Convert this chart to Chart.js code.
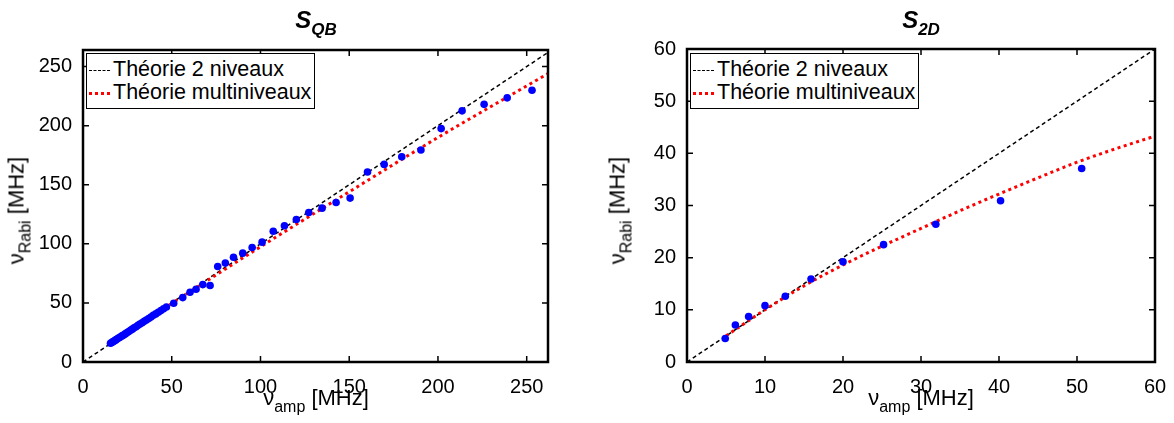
<!DOCTYPE html>
<html>
<head>
<meta charset="utf-8">
<script src="https://cdn.jsdelivr.net/npm/chart.js@4"></script>
<style>
  body { margin: 0; background: #fff; font-family: "Liberation Sans", Arial, sans-serif; }
  #wrap { position: relative; width: 1174px; height: 423px; overflow: hidden; }
  .pane { position: absolute; top: 0; width: 587px; height: 423px; }
  .title { position: absolute; width: 200px; text-align: center; font-weight: bold; font-style: italic; font-size: 24px; top: 6px; line-height: 28px; }
  .title sub { font-size: 17px; vertical-align: -7px; }
  .xlab { position: absolute; width: 240px; text-align: center; font-size: 22px; top: 386px; line-height: 24px; }
  .ylab { position: absolute; width: 240px; text-align: center; font-size: 22px; line-height: 24px; transform: rotate(-90deg); transform-origin: center center; }
  .xlab sub, .ylab sub { font-size: 16px; vertical-align: -7px; }
  .legend { position: absolute; top: 53px; height: 54px; border: 1px solid #000; background: #fff; font-size: 21.5px; padding-right: 3px; }
  .legend div { height: 22px; line-height: 22px; margin-top: 4px; white-space: nowrap; }
  .legend div + div { margin-top: 1px; }
  .legend span.s { display: inline-block; width: 21px; margin: 0 3px 0 2px; vertical-align: middle; }
  .legend span.k { border-top: 1.5px dashed #000; }
  .legend span.r { border-top: 3px dotted #f00; }
</style>
</head>
<body>
<div id="wrap">
  <div class="pane" style="left:0"><canvas id="qbChart"></canvas></div>
  <div class="pane" style="left:587px"><canvas id="d2Chart"></canvas></div>

  <div class="title" style="left:216px">S<sub>QB</sub></div>
  <div class="title" style="left:821px">S<sub>2D</sub></div>

  <div class="legend" style="left:86px">
    <div><span class="s k"></span>Théorie 2 niveaux</div>
    <div><span class="s r"></span>Théorie multiniveaux</div>
  </div>
  <div class="legend" style="left:690px">
    <div><span class="s k"></span>Théorie 2 niveaux</div>
    <div><span class="s r"></span>Théorie multiniveaux</div>
  </div>

  <div class="xlab" style="left:196px">ν<sub>amp</sub> [MHz]</div>
  <div class="xlab" style="left:801px">ν<sub>amp</sub> [MHz]</div>
  <div class="ylab" style="left:-99px; top:194px">ν<sub>Rabi</sub> [MHz]</div>
  <div class="ylab" style="left:502px; top:194px">ν<sub>Rabi</sub> [MHz]</div>
</div>

<script>
// S_QB measurements
const qbAmp  = [15.5, 16.2, 16.9, 17.6, 18.3, 19.0, 19.8, 20.6, 21.4, 22.2, 23.1, 24.0, 24.9, 25.8, 26.8, 27.8,
                28.8, 29.9, 31.0, 32.1, 33.3, 34.5, 35.7, 37.0, 38.3, 39.6, 41.0, 42.4, 43.9, 45.4, 47.0,
                51.1, 56.2, 60.3, 63.7, 67.5, 71.6, 75.9, 80.2, 84.8, 90.0, 95.3, 100.9, 107.2, 113.5, 120.2,
                127.2, 134.7, 142.6, 150.5, 160.3, 169.7, 179.6, 190.4, 201.8, 213.6, 226.0, 239.0, 253.0];
const qbRabi = [15.9, 16.5, 17.2, 17.8, 18.5, 19.2, 20.0, 20.7, 21.5, 22.3, 23.1, 24.0, 24.9, 25.8, 26.9, 27.8,
                28.9, 29.8, 31.0, 32.1, 33.2, 34.4, 35.6, 36.8, 38.1, 39.5, 40.7, 42.1, 43.5, 45.0, 46.6,
                49.7, 54.5, 59.0, 61.6, 65.5, 64.7, 80.8, 83.7, 88.6, 92.1, 96.9, 101.4, 110.6, 115.3, 120.6,
                126.5, 130.2, 135.0, 138.7, 160.8, 167.2, 173.7, 179.4, 197.5, 212.5, 218.0, 223.5, 230.0];
const qbTwoX   = [0, 262];
const qbTwoY   = [0, 262];
const qbMultiX = [15, 50, 100, 150, 200, 262];
const qbMultiY = [15, 49.5, 97.5, 144, 190, 244];
const qbTicks  = [0, 50, 100, 150, 200, 250];

// S_2D measurements
const d2Amp    = [4.9, 6.2, 7.9, 10.0, 12.6, 15.9, 20.0, 25.2, 31.9, 40.2, 50.6];
const d2Rabi   = [4.5, 7.1, 8.7, 10.8, 12.6, 15.9, 19.2, 22.5, 26.4, 30.9, 37.1];
const d2TwoX   = [0, 60];
const d2TwoY   = [0, 60];
const d2MultiX = [5, 10, 15, 20, 25, 30, 35, 40, 45, 50, 55, 60];
const d2MultiY = [5, 10, 14.6, 18.6, 22.2, 25.6, 29.0, 32.2, 35.3, 38.3, 40.9, 43.3];
const d2Ticks  = [0, 10, 20, 30, 40, 50, 60];

const pts = (xs, ys) => xs.map((v, i) => ({ x: v, y: ys[i] }));
const font = { family: '"Liberation Sans", Arial, sans-serif', size: 20 };

// MATLAB-like box with inward ticks on all four sides
const boxPlugin = {
    id: 'box',
    afterDatasetsDraw(chart) {
        const { ctx, chartArea: a, scales: { x, y } } = chart;
        ctx.save();
        ctx.strokeStyle = '#000';
        ctx.lineWidth = 1.5;
        ctx.beginPath();
        x.ticks.forEach(t => {
            const p = x.getPixelForValue(t.value);
            ctx.moveTo(p, a.bottom); ctx.lineTo(p, a.bottom - 6);
            ctx.moveTo(p, a.top);    ctx.lineTo(p, a.top + 6);
        });
        y.ticks.forEach(t => {
            const p = y.getPixelForValue(t.value);
            ctx.moveTo(a.left, p);  ctx.lineTo(a.left + 6, p);
            ctx.moveTo(a.right, p); ctx.lineTo(a.right - 6, p);
        });
        ctx.stroke();
        ctx.lineWidth = 2.5;
        ctx.strokeRect(a.left, a.top, a.right - a.left, a.bottom - a.top);
        ctx.restore();
    }
};

function makeChart(id, amp, rabi, twoX, twoY, multiX, multiY, ticks, xMax, yMax, yWidth, pad) {
    return new Chart(document.getElementById(id), {
        type: 'scatter',
        data: {
            datasets: [
                {
                    data: pts(amp, rabi),
                    backgroundColor: '#0000ff',
                    borderWidth: 0,
                    pointRadius: 3.8
                },
                {
                    data: pts(multiX, multiY),
                    showLine: true,
                    borderColor: '#ff0000',
                    borderWidth: 3,
                    borderDash: [3, 3.5],
                    pointRadius: 0,
                    cubicInterpolationMode: 'monotone'
                },
                {
                    data: pts(twoX, twoY),
                    showLine: true,
                    borderColor: '#000',
                    borderWidth: 1.5,
                    borderDash: [4, 3],
                    pointRadius: 0
                }
            ]
        },
        options: {
            responsive: true,
            maintainAspectRatio: false,
            animation: false,
            layout: { padding: pad },
            plugins: { legend: { display: false }, tooltip: { enabled: false } },
            scales: {
                x: {
                    type: 'linear', min: 0, max: xMax,
                    grid: { display: false },
                    border: { display: false },
                    afterBuildTicks: s => { s.ticks = ticks.map(v => ({ value: v })); },
                    afterFit: s => { s.height = 61; },
                    ticks: { font, color: '#000', padding: 5, maxRotation: 0 }
                },
                y: {
                    type: 'linear', min: 0, max: yMax,
                    grid: { display: false },
                    border: { display: false },
                    afterBuildTicks: s => { s.ticks = ticks.map(v => ({ value: v })); },
                    afterFit: s => { s.width = yWidth; },
                    ticks: { font, color: '#000', padding: 3 }
                }
            }
        },
        plugins: [boxPlugin]
    });
}

makeChart('qbChart', qbAmp, qbRabi, qbTwoX, qbTwoY, qbMultiX, qbMultiY, qbTicks, 262, 264, 83,
          { top: 50, right: 39, bottom: 0, left: 0 });
makeChart('d2Chart', d2Amp, d2Rabi, d2TwoX, d2TwoY, d2MultiX, d2MultiY, d2Ticks, 60, 60, 100,
          { top: 49, right: 19, bottom: 0, left: 0 });
</script>
</body>
</html>
